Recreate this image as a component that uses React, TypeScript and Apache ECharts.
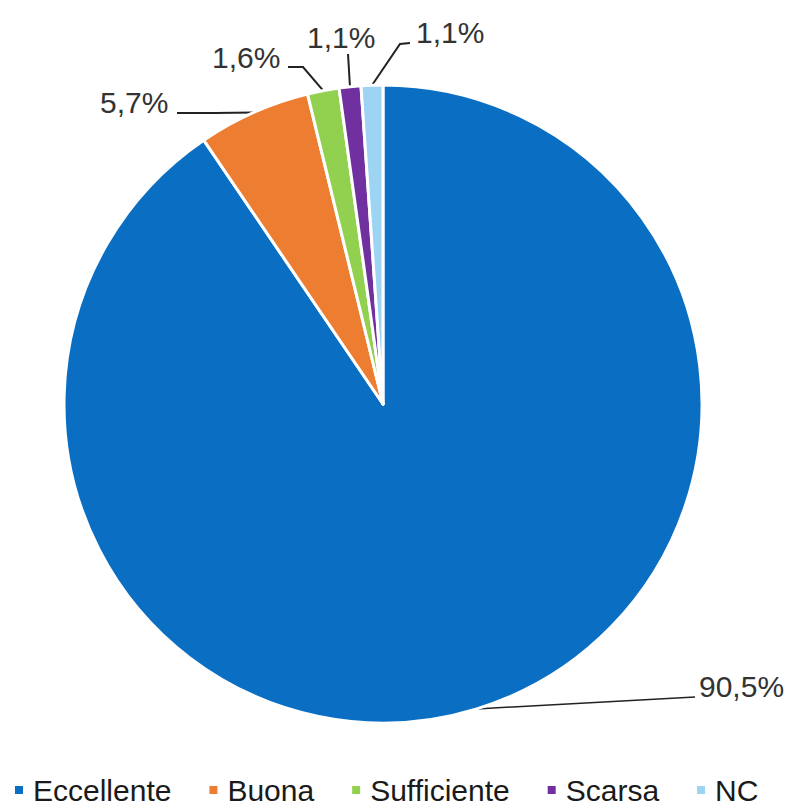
import React, { useEffect, useRef } from "react";
import * as echarts from "echarts";

const categories = ["Eccellente", "Buona", "Sufficiente", "Scarsa", "NC"];
const values = [90.5, 5.7, 1.6, 1.1, 1.1];
const colors = ["#0A6FC2", "#ED7D31", "#92D050", "#7030A0", "#9DD3F3"];

// label anchor (left / middle) and leader-line bend + end points (layout only)
const labelLayoutCfg = [
  { x: 699, y: 686, bend: [695, 697], end: [695, 697], lw: 1.5 },
  { x: 100, y: 102, bend: [215, 113], end: [177, 113], lw: 2 },
  { x: 212, y: 57, bend: [303, 67], end: [288, 67], lw: 2 },
  { x: 307, y: 37, bend: [348, 54], end: [348, 54], lw: 2 },
  { x: 416, y: 32, bend: [400, 44], end: [410, 43], lw: 2 },
];

const FONT = "'Liberation Sans', Arial, sans-serif";

export default function App() {
  const ref = useRef<HTMLDivElement>(null);
  useEffect(() => {
    if (!ref.current) return;
    const chart = echarts.init(ref.current, null, { renderer: "svg" });
    chart.setOption({
      animation: false,
      backgroundColor: "#ffffff",
      color: colors,
      legend: {
        data: categories,
        left: 13,
        top: 775,
        padding: 0,
        icon: "rect",
        itemWidth: 10,
        itemHeight: 10,
        itemGap: 36,
        textStyle: {
          fontSize: 30,
          lineHeight: 30,
          color: "#1a1a1a",
          fontFamily: FONT,
          padding: [0, 0, 0, 4],
        },
      },
      series: [
        {
          type: "pie",
          center: [383, 404],
          radius: 319,
          startAngle: 90,
          clockwise: true,
          avoidLabelOverlap: false,
          emphasis: { disabled: true },
          itemStyle: { borderColor: "#ffffff", borderWidth: 3 },
          label: {
            show: true,
            position: "outside",
            fontSize: 30,
            color: "#333333",
            fontFamily: FONT,
            formatter: (p: any) => p.value.toFixed(1).replace(".", ",") + "%",
          },
          labelLine: {
            show: true,
            length: 10,
            length2: 10,
            lineStyle: { color: "#222222", width: 2 },
          },
          labelLayout: (params: any) => {
            const cfg = labelLayoutCfg[params.dataIndex];
            const pts = params.labelLinePoints;
            const p0 = pts ? pts[0] : cfg.bend;
            return {
              x: cfg.x,
              y: cfg.y,
              align: "left",
              verticalAlign: "middle",
              labelLinePoints: [p0, cfg.bend, cfg.end],
            };
          },
          data: categories.map((name, i) => ({
            name,
            value: values[i],
            labelLine: { lineStyle: { width: labelLayoutCfg[i].lw } },
          })),
        },
      ],
    });
    return () => chart.dispose();
  }, []);
  return (
    <div
      ref={ref}
      style={{ position: "fixed", left: 0, top: 0, width: 795, height: 805 }}
    />
  );
}
